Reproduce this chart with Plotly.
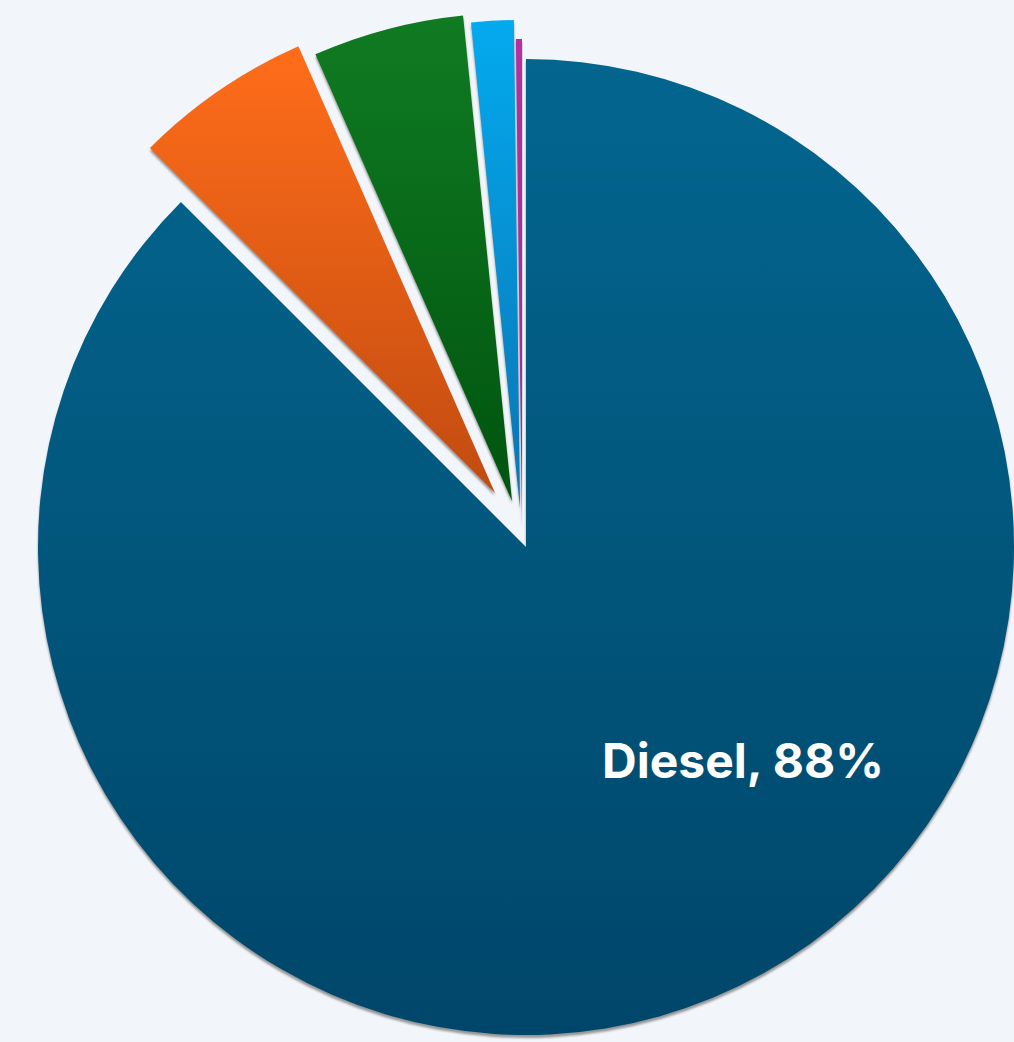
import json
import plotly.graph_objects as go

# Fuel mix shares (%)
fuels = ["Diesel", "Gasoline", "CNG", "Electric", "Hybrid"]
shares = [87.5, 5.9, 5.0, 1.4, 0.2]

# Styling: solid colour per slice plus top/bottom stops of its vertical gradient
base_colors = ["rgb(2, 88, 124)", "rgb(232, 94, 22)", "rgb(8, 104, 26)", "rgb(6, 150, 214)", "rgb(168, 45, 160)"]
grad_stops = [("#03668f", "#00466a"), ("#ff6d1a", "#c24b10"), ("#107b22", "#00540f"),
              ("#03aaee", "#0a74b4"), ("#b8309f", "#9a2a95")]
# Where each slice's tip sits (pixels): Diesel stays put, the rest are exploded outwards
tips = [(526, 547), (495, 493), (512, 501), (520, 508), (522, 527)]
RADIUS = 488
SHADOW_DY = 3
SHADOW_COLOR = "rgb(150, 150, 150)"
BG = "#f2f6fb"
W, H = 1014, 1042
CLEAR = "rgba(0,0,0,0)"


def domain_for(cx, cy, r):
    r = min(r, cx, W - cx, cy, H - cy)
    return dict(x=[(cx - r) / W, (cx + r) / W], y=[1 - (cy + r) / H, 1 - (cy - r) / H])


def slice_trace(idx, color, cx, cy):
    colors = [color if j == idx else CLEAR for j in range(len(fuels))]
    return go.Pie(
        labels=fuels, values=shares, sort=False, direction="clockwise", rotation=0,
        marker=dict(colors=colors, line=dict(width=0)),
        textinfo="none", hoverinfo="label+percent", showlegend=False,
        domain=domain_for(cx, cy, RADIUS),
    )


fig = go.Figure()
# soft drop shadows underneath
for i, (cx, cy) in enumerate(tips):
    fig.add_trace(slice_trace(i, SHADOW_COLOR, cx, cy + SHADOW_DY))
# the slices themselves
for i, (cx, cy) in enumerate(tips):
    fig.add_trace(slice_trace(i, base_colors[i], cx, cy))

total = sum(shares)
fig.add_annotation(
    text=f"{fuels[0]}, {shares[0] / total * 100:.0f}%",
    x=743 / W, y=1 - 760 / H, xref="paper", yref="paper", showarrow=False,
    xanchor="center", yanchor="middle",
    font=dict(family="Inter, Lato, sans-serif", size=48, color="white", weight="bold"),
)

fig.update_layout(
    width=W, height=H, margin=dict(l=0, r=0, t=0, b=0),
    paper_bgcolor=BG, plot_bgcolor=BG,
)

grad_map = {c: list(s) for c, s in zip(base_colors, grad_stops)}
post = """
var gd = document.getElementById('{plot_id}');
var ns = 'http://www.w3.org/2000/svg';
var svg = gd.querySelector('svg.main-svg');
var defs = svg.querySelector('defs');
if (!defs) { defs = document.createElementNS(ns, 'defs'); svg.insertBefore(defs, svg.firstChild); }
var grads = GRADS;
var shadow = 'SHADOW';
var blur = document.createElementNS(ns, 'filter');
blur.setAttribute('id', 'sliceShadowBlur');
blur.setAttribute('x', '-5%'); blur.setAttribute('y', '-5%');
blur.setAttribute('width', '110%'); blur.setAttribute('height', '110%');
var fe = document.createElementNS(ns, 'feGaussianBlur');
fe.setAttribute('stdDeviation', '1.2');
blur.appendChild(fe);
defs.appendChild(blur);
var n = 0;
gd.querySelectorAll('g.slice path.surface').forEach(function (p) {
  var f = p.style.fill;
  if (f === shadow) { p.setAttribute('filter', 'url(#sliceShadowBlur)'); return; }
  var stops = grads[f];
  if (!stops) return;
  var id = 'sliceGrad' + (n++);
  var g = document.createElementNS(ns, 'linearGradient');
  g.setAttribute('id', id);
  g.setAttribute('x1', '0'); g.setAttribute('y1', '0');
  g.setAttribute('x2', '0'); g.setAttribute('y2', '1');
  [[0, stops[0]], [1, stops[1]]].forEach(function (s) {
    var st = document.createElementNS(ns, 'stop');
    st.setAttribute('offset', s[0]);
    st.setAttribute('stop-color', s[1]);
    g.appendChild(st);
  });
  defs.appendChild(g);
  p.style.fill = 'url(#' + id + ')';
});
""".replace("GRADS", json.dumps(grad_map)).replace("SHADOW", SHADOW_COLOR)

fig.write_html("out.html", post_script=post)
